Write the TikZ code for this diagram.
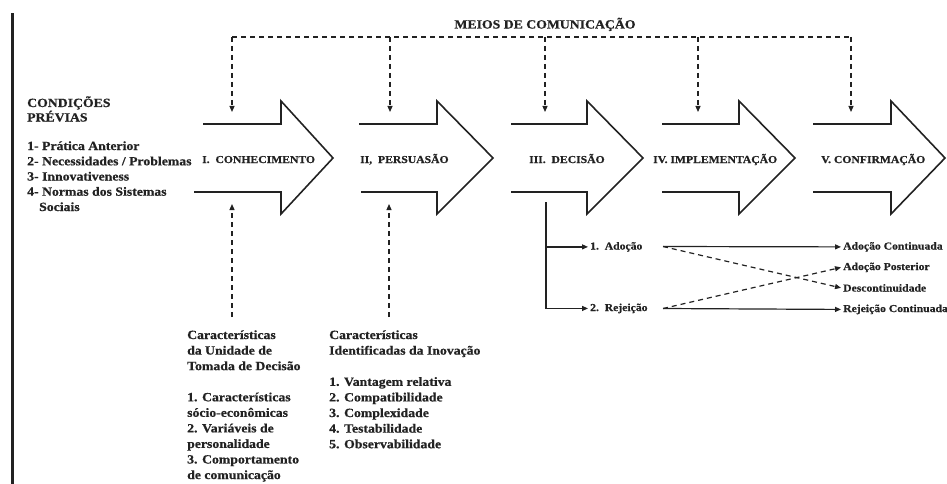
\documentclass[tikz,border=0pt]{standalone}
\usepackage{fontspec}
\setmainfont{Liberation Serif}[FakeStretch=1.1,BoldFeatures={FakeBold=0.7}]
\usetikzlibrary{arrows.meta}
\definecolor{ink}{HTML}{222222}
\newcommand\fbig{\fontsize{12.5}{15.6}\selectfont\bfseries}
\newcommand\fsmall{\fontsize{10.6}{13}\selectfont\bfseries}
\begin{document}
\begin{tikzpicture}[x=1pt,y=-1pt,
  txt/.style={inner sep=2pt,text=ink,font=\fbig,anchor=base west},
  stxt/.style={inner sep=2pt,text=ink,font=\fsmall,anchor=base west},
  arrowline/.style={draw=ink,line width=1.6pt,line join=miter},
  dashline/.style={draw=ink,line width=1.2pt,dash pattern=on 5pt off 4pt},
  tip/.style={-{Triangle[width=5pt,length=6pt]}},
  solidline/.style={draw=ink,line width=1.2pt}]
\useasboundingbox (0,0) rectangle (947,484);
% left bar
\fill[ink] (11,13) rectangle (14,484);
% big arrows
\newcommand\bigarrow[4]{\draw[arrowline] (#1,124) -- (#3,124) -- (#3,101) -- (#4,158) -- (#3,214) -- (#3,192) -- (#2,192);}
\bigarrow{203}{194}{281}{333}
\bigarrow{359}{361}{437}{493}
\bigarrow{511}{511}{587}{643}
\bigarrow{662}{662}{739}{795}
\bigarrow{813}{813}{891}{945}
% arrow labels
\node[stxt] (k1) at (200,163) {I.\ \ CONHECIMENTO};
\node[stxt] (k2) at (358,163) {II,\ \ PERSUASÃO};
\node[stxt] (k3) at (527,163) {III.\ \ DECISÃO};
\node[stxt] (k4) at (651,163) {IV. IMPLEMENTAÇÃO};
\node[stxt] (k5) at (819,163) {V. CONFIRMAÇÃO};
% media
\node[txt,anchor=base] (meios) at (545,28.5) {MEIOS DE COMUNICAÇÃO};
\foreach \x [count=\i] in {232,390,545,698,851}{
  \coordinate (t\i) at (\x,37);
  \coordinate (a\i) at (\x,112);
  \draw[dashline,tip] (t\i) -- (a\i);
}
\draw[dashline] (t1) -- (t5);
% left conditions
\node[txt] (cond1) at (25,107) {CONDIÇÕES};
\node[txt] (cond2) at (25,121.5) {PRÉVIAS};
\node[txt] (p1) at (25,150) {1- Prática Anterior};
\node[txt] (p2) at (25,165.3) {2- Necessidades / Problemas};
\node[txt] (p3) at (25,180.5) {3- Innovativeness};
\node[txt] (p4) at (25,195.7) {4- Normas dos Sistemas};
\node[txt] (p5) at (37,211) {Sociais};
% bottom upward dashed arrows
\coordinate (u1) at (232,317); \coordinate (v1) at (232,204);
\coordinate (u2) at (389,317); \coordinate (v2) at (389,204);
\draw[dashline,tip] (u1) -- (v1);
\draw[dashline,tip] (u2) -- (v2);
% bottom text columns
\foreach \t [count=\i] in {{Características},{da Unidade de},{Tomada de Decisão},{},{1. Características},{sócio-econômicas},{2. Variáveis de},{personalidade},{3. Comportamento},{de comunicação}}{
  \node[txt] (l\i) at (185,{339+15.56*(\i-1)}) {\t};
}
\foreach \t [count=\i] in {{Características},{Identificadas da Inovação},{},{1. Vantagem relativa},{2. Compatibilidade},{3. Complexidade},{4. Testabilidade},{5. Observabilidade}}{
  \node[txt] (r\i) at (327,{339+15.6*(\i-1)}) {\t};
}
% decision branches
\node[stxt] (adocao) at (588,249.5) {1.\ \ Adoção};
\node[stxt] (rejeicao) at (588,311) {2.\ \ Rejeição};
\coordinate (dtop) at (546,202);
\draw[solidline,tip] (dtop) |- (adocao.west);
\draw[solidline,tip] (dtop) |- (rejeicao.west);
\node[stxt] (ac) at (841,249.5) {Adoção Continuada};
\node[stxt] (ap) at (841,270) {Adoção Posterior};
\node[stxt] (dc) at (841,291.5) {Descontinuidade};
\node[stxt] (rc) at (841,312) {Rejeição Continuada};
\coordinate (aout) at (663,246.5);
\coordinate (rout) at (663,308.5);
\draw[solidline,tip] (aout) -- (ac.west);
\draw[solidline,tip] (rout) -- (rc.west);
\draw[dashline,tip] (aout) -- (dc.west);
\draw[dashline,tip] (rout) -- (ap.west);
\end{tikzpicture}
\end{document}
